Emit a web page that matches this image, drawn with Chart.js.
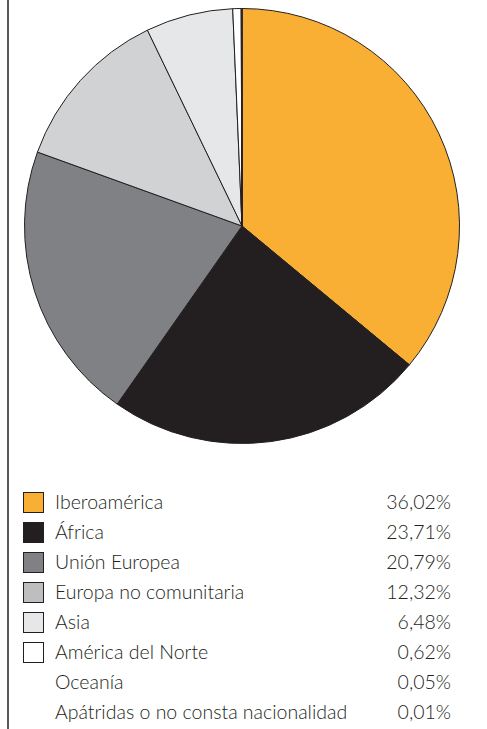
<!DOCTYPE html>
<html>
<head>
<meta charset="utf-8">
<script src="https://cdn.jsdelivr.net/npm/chart.js@4"></script>
<style>
  body { margin: 0; background: #fff; width: 487px; height: 729px; position: relative; overflow: hidden; font-family: Lato, "Open Sans", sans-serif; }
  .vline { position: absolute; left: 7px; top: 0; width: 1.5px; height: 729px; background: #5a5a5c; }
  .pie { position: absolute; left: 24px; top: 8px; width: 436px; height: 436px; }
  #legend { position: absolute; left: 23px; top: 490px; width: 428px; }
  .row { position: relative; height: 30px; font-size: 19.5px; font-weight: 300; color: #231f20; }
  .box { position: absolute; left: 0; top: 2px; width: 19px; height: 19px; border: 1px solid #231f20; }
  .lab { position: absolute; left: 32px; top: 0px; }
  .val { position: absolute; right: 0; top: 0px; }
</style>
</head>
<body>
<div class="vline"></div>
<div class="pie"><canvas id="myChart" width="436" height="436"></canvas></div>
<div id="legend"></div>
<script>
// datos del gráfico
const categories = ['Iberoamérica', 'África', 'Unión Europea', 'Europa no comunitaria', 'Asia', 'América del Norte', 'Oceanía', 'Apátridas o no consta nacionalidad'];
const values = [36.02, 23.71, 20.79, 12.32, 6.48, 0.62, 0.05, 0.01];
const valueLabels = ['36,02%', '23,71%', '20,79%', '12,32%', '6,48%', '0,62%', '0,05%', '0,01%'];
const colors = ['#f9af33', '#231f20', '#808184', '#d1d2d4', '#e6e7e8', '#ffffff', '#ffffff', '#ffffff'];
const boxColors = ['#f9af33', '#231f20', '#808184', '#bcbec0', '#e6e7e8', '#ffffff', null, null];

const ctx = document.getElementById('myChart').getContext('2d');
const myChart = new Chart(ctx, {
    type: 'pie',
    data: {
        labels: categories,
        datasets: [{
            data: values,
            backgroundColor: colors,
            borderColor: '#231f20',
            borderWidth: 1
        }]
    },
    options: {
        responsive: false,
        animation: false,
        layout: { padding: 0 },
        plugins: {
            legend: { display: false },
            tooltip: { enabled: false }
        }
    }
});

// leyenda hecha a mano
let legend = document.getElementById('legend');
categories.forEach((c, i) => {
    let row = document.createElement('div');
    row.className = 'row';
    let html = '';
    if (boxColors[i]) {
        html += '<div class="box" style="background:' + boxColors[i] + '"></div>';
    }
    html += '<span class="lab">' + c + '</span><span class="val">' + valueLabels[i] + '</span>';
    row.innerHTML = html;
    legend.appendChild(row);
});
</script>
</body>
</html>
